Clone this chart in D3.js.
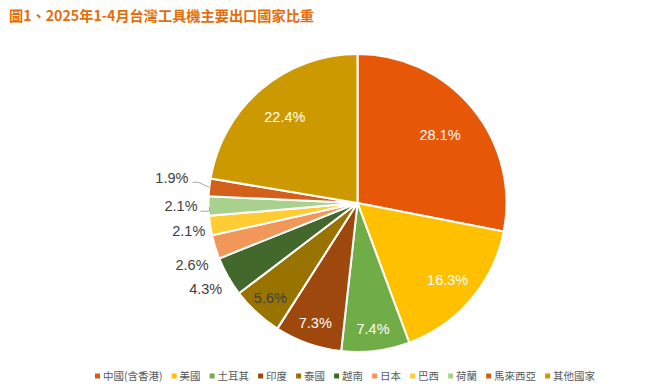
<!DOCTYPE html>
<html>
<head>
<meta charset="utf-8">
<script src="https://cdn.jsdelivr.net/npm/d3@7"></script>
<style>
  body { margin: 0; background: #fff; }
  svg { display: block; }
</style>
</head>
<body>
<div id="chart"></div>
<script>
// data
var countries = ["中國(含香港)", "美國", "土耳其", "印度", "泰國", "越南", "日本", "巴西", "荷蘭", "馬來西亞", "其他國家"];
var shares = [28.1, 16.3, 7.4, 7.3, 5.6, 4.3, 2.6, 2.1, 2.1, 1.9, 22.4];
var colors = ["#E65708", "#FFC000", "#70AD47", "#9E480E", "#997300", "#43682B", "#F1975A", "#FFCD33", "#A9D18E", "#D2601A", "#CC9A00"];

var width = 663, height = 391;
var cx = 357.5, cy = 203, r = 149;

// labels that sit outside the pie (small slices), with nudges like the original
var outside = { 5: [3, 7], 6: [3, 15], 7: [5, 4], 8: [-1, 0], 9: [-11, -8] };
var leaders = { 8: true, 9: true };

var svg = d3.select("#chart").append("svg")
    .attr("width", width)
    .attr("height", height);

svg.append("text")
    .attr("x", 9)
    .attr("y", 21)
    .attr("fill", "#E46C0A")
    .style("font-family", "'Noto Sans CJK TC', 'Noto Sans', sans-serif")
    .style("font-weight", "bold")
    .style("font-size", "14.2px")
    .text("圖1、2025年1-4月台灣工具機主要出口國家比重");

var pie = d3.pie().sort(null).value(function(d) { return d; });
var arcs = pie(shares);
var arc = d3.arc().innerRadius(0).outerRadius(r);

var g = svg.append("g").attr("transform", "translate(" + cx + "," + cy + ")");

g.selectAll("path.slice")
    .data(arcs)
  .enter().append("path")
    .attr("class", "slice")
    .attr("d", arc)
    .attr("fill", function(d, i) { return colors[i]; })
    .attr("stroke", "#fff")
    .attr("stroke-width", 2)
    .attr("stroke-linejoin", "round");

function mid(d) { return (d.startAngle + d.endAngle) / 2; }

// percentage labels
arcs.forEach(function(d, i) {
  var a = mid(d);
  var label = shares[i].toFixed(1) + "%";
  if (outside[i]) {
    var R = r + 10;
    var x = Math.sin(a) * R + outside[i][0];
    var y = -Math.cos(a) * R + outside[i][1];
    g.append("text")
        .attr("x", x)
        .attr("y", y)
        .attr("dy", "0.35em")
        .attr("text-anchor", "end")
        .attr("fill", "#404040")
        .style("font-family", "'Liberation Sans', Arial, sans-serif")
        .style("font-size", "14.5px")
        .text(label);
    if (leaders[i]) {
      var ex = Math.sin(a) * r, ey = -Math.cos(a) * r;
      var pts = i === 8
        ? [[x + 3, y + 5], [ex + 1, y + 5], [ex + 1, ey + 1]]
        : [[x + 4, y + 4], [x + 10, y + 4], [ex, ey]];
      g.append("path")
          .attr("d", d3.line()(pts))
          .attr("fill", "none")
          .attr("stroke", "#A6A6A6")
          .attr("stroke-width", 1);
    }
  } else {
    var f = 0.9 - 0.0065 * shares[i];
    g.append("text")
        .attr("x", Math.sin(a) * r * f)
        .attr("y", -Math.cos(a) * r * f)
        .attr("dy", "0.35em")
        .attr("text-anchor", "middle")
        .attr("fill", i === 4 ? "#404040" : "#fff")
        .style("font-family", "'Liberation Sans', Arial, sans-serif")
        .style("font-size", "14.5px")
        .text(label);
  }
});

// legend
var legend = svg.append("g").attr("transform", "translate(95,376)");
var lx = 0;
countries.forEach(function(c, i) {
  legend.append("rect")
      .attr("x", lx)
      .attr("y", -2.5)
      .attr("width", 5)
      .attr("height", 5)
      .attr("fill", colors[i]);
  var t = legend.append("text")
      .attr("x", lx + 8)
      .attr("y", 0)
      .attr("dy", "0.35em")
      .attr("fill", "#595959")
      .style("font-family", "'Noto Sans CJK TC', 'Noto Sans', sans-serif")
      .style("font-size", "10.5px")
      .text(c);
  lx += 8 + t.node().getComputedTextLength() + 9;
});
</script>
</body>
</html>
